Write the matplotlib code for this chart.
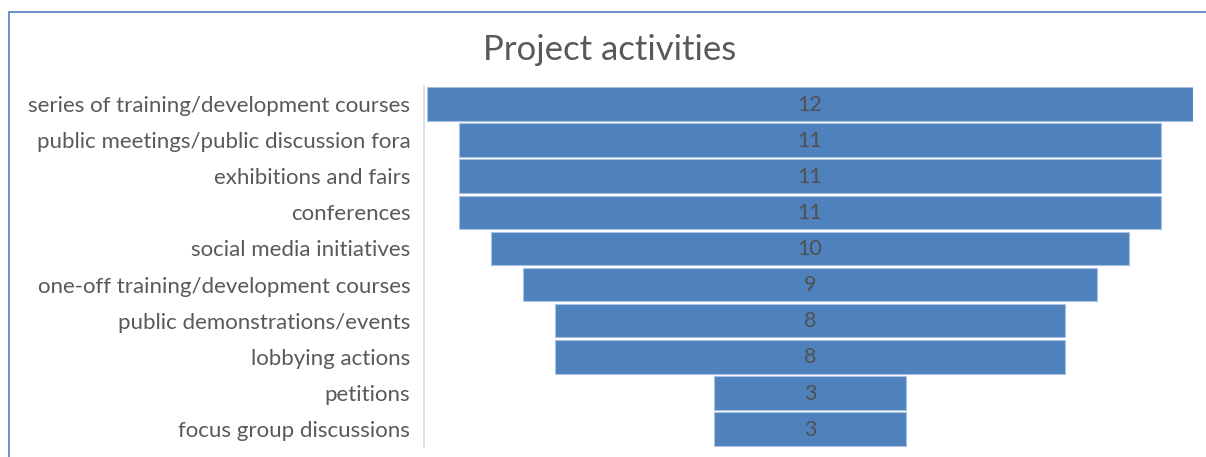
import matplotlib
matplotlib.use("Agg")
import matplotlib.pyplot as plt
from matplotlib.patches import Rectangle

# Activities ranked top to bottom, with counts
activities = [
    "series of training/development courses",
    "public meetings/public discussion fora",
    "exhibitions and fairs",
    "conferences",
    "social media initiatives",
    "one-off training/development courses",
    "public demonstrations/events",
    "lobbying actions",
    "petitions",
    "focus group discussions",
]
counts = [12, 11, 11, 11, 10, 9, 8, 8, 3, 3]

BAR = "#4F81BD"
INK = "#595959"
FONT = ["Lato", "DejaVu Sans"]

W, H = 1206, 457
fig = plt.figure(figsize=(W / 100, H / 100), dpi=100)
fig.patch.set_facecolor("white")

# chart frame (blue line top and left)
fig.add_artist(Rectangle((9 / W, -0.1), 1.2, 1 - 12 / H + 0.1, transform=fig.transFigure,
                         fill=False, edgecolor="#4A7EC4", linewidth=1.2))

ax = fig.add_axes([427 / W, 1 - 447 / H, (1193 - 427) / W, (447 - 86) / H])
for side in ("top", "right", "bottom"):
    ax.spines[side].set_visible(False)
ax.spines["left"].set_position(("outward", 2))
ax.spines["left"].set_color("#d9d9d9")
ax.spines["left"].set_linewidth(1.2)

top = max(counts)
n = len(counts)
ys = list(range(n))
lefts = [(top - c) / 2 for c in counts]
ax.barh(ys, counts, left=lefts, height=0.93, color=BAR, edgecolor="#a9c1e0", linewidth=0.8)
for y, c in zip(ys, counts):
    ax.text(top / 2, y + 0.02, str(c), ha="center", va="center", fontsize=15.5,
            color="#505050", family=FONT)

ax.set_xlim(0, top)
ax.set_ylim(n - 0.5, -0.5)
ax.set_xticks([])
ax.set_yticks(ys)
ax.set_yticklabels(activities, fontsize=16, color=INK, family=FONT)
ax.tick_params(axis="y", length=0, pad=10)

fig.text(610 / W, 1 - 50 / H, "Project activities", ha="center", va="center",
         fontsize=25, color=INK, family=FONT)

fig.savefig("out.png", dpi=100)
